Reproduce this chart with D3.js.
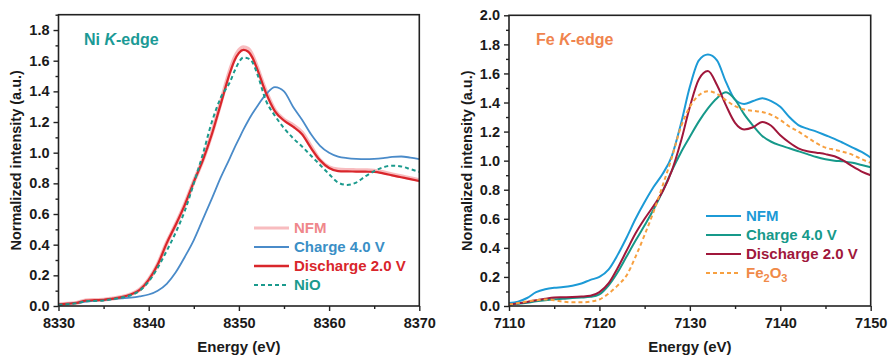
<!DOCTYPE html>
<html lang="en">
<head>
<meta charset="utf-8">
<title>Ni and Fe K-edge XANES</title>
<script src="https://d3js.org/d3.v7.min.js"></script>
<style>
  body { margin: 0; background: #fff; }
  text { font-family: "Liberation Sans", Arial, sans-serif; font-weight: bold; }
</style>
</head>
<body>
<div id="chart"></div>
<script>
// ---- Ni K-edge data ----
var niEnergy = [8330,8331,8332,8333,8334,8335,8336,8337,8338,8339,8340,8341,8342,8343,8344,8345,8346,8347,8348,8349,8349.5,8350,8350.5,8351,8351.5,8352,8353,8354,8355,8356,8357,8358,8359,8360,8361,8362,8363,8364,8365,8366,8367,8368,8369,8370];
var niNFM = [0.010,0.015,0.020,0.036,0.039,0.041,0.049,0.059,0.076,0.107,0.172,0.272,0.412,0.532,0.662,0.812,0.952,1.125,1.330,1.535,1.615,1.668,1.688,1.678,1.635,1.560,1.400,1.275,1.215,1.180,1.132,1.040,0.950,0.905,0.890,0.887,0.886,0.885,0.883,0.872,0.858,0.846,0.834,0.820];
var niCharge = [0.010,0.014,0.020,0.028,0.035,0.040,0.045,0.050,0.055,0.063,0.075,0.100,0.145,0.220,0.320,0.430,0.565,0.700,0.840,0.965,1.030,1.090,1.150,1.205,1.255,1.300,1.380,1.428,1.400,1.300,1.215,1.120,1.045,1.000,0.975,0.965,0.960,0.958,0.960,0.965,0.972,0.975,0.968,0.958];
var niDischarge = [0.010,0.015,0.020,0.035,0.038,0.040,0.048,0.058,0.075,0.105,0.170,0.270,0.410,0.530,0.660,0.810,0.950,1.120,1.320,1.520,1.600,1.650,1.670,1.660,1.620,1.550,1.390,1.270,1.210,1.170,1.120,1.030,0.950,0.900,0.880,0.878,0.877,0.876,0.875,0.865,0.852,0.840,0.828,0.815];
var niNiO = [0.008,0.012,0.018,0.030,0.033,0.036,0.045,0.055,0.070,0.100,0.160,0.250,0.360,0.480,0.620,0.800,0.990,1.200,1.360,1.460,1.530,1.590,1.620,1.615,1.590,1.520,1.340,1.240,1.160,1.095,1.040,0.980,0.920,0.860,0.805,0.790,0.805,0.845,0.880,0.905,0.915,0.910,0.893,0.875];
var niXTicks = [8330, 8340, 8350, 8360, 8370];
var niYTicks = [0, 0.2, 0.4, 0.6, 0.8, 1.0, 1.2, 1.4, 1.6, 1.8];

// ---- Fe K-edge data ----
var feEnergy = d3.range(7110, 7151, 1);
var feNFM = [0.020,0.030,0.055,0.095,0.115,0.125,0.130,0.140,0.155,0.180,0.200,0.250,0.350,0.470,0.600,0.715,0.820,0.910,1.030,1.250,1.508,1.690,1.730,1.690,1.540,1.420,1.390,1.410,1.430,1.410,1.370,1.300,1.245,1.220,1.200,1.175,1.150,1.120,1.090,1.060,1.020];
var feCharge = [0.010,0.015,0.022,0.032,0.040,0.046,0.050,0.055,0.058,0.063,0.080,0.140,0.230,0.340,0.450,0.555,0.665,0.790,0.930,1.055,1.164,1.270,1.360,1.430,1.470,1.420,1.320,1.240,1.170,1.130,1.105,1.085,1.065,1.045,1.025,1.010,1.000,0.995,0.985,0.970,0.955];
var feDischarge = [0.010,0.018,0.028,0.040,0.050,0.058,0.060,0.062,0.065,0.070,0.095,0.155,0.260,0.380,0.500,0.600,0.690,0.790,0.930,1.130,1.370,1.560,1.616,1.520,1.380,1.260,1.215,1.230,1.266,1.240,1.175,1.125,1.085,1.065,1.055,1.045,1.030,1.000,0.960,0.925,0.900];
var feFe2O3 = [0.010,0.020,0.032,0.040,0.045,0.040,0.030,0.025,0.025,0.030,0.045,0.085,0.140,0.210,0.340,0.490,0.650,0.830,1.020,1.230,1.370,1.450,1.478,1.460,1.415,1.375,1.352,1.343,1.335,1.315,1.280,1.235,1.200,1.160,1.120,1.090,1.075,1.060,1.040,1.010,0.985];
var feXTicks = [7110, 7120, 7130, 7140, 7150];
var feYTicks = [0, 0.2, 0.4, 0.6, 0.8, 1.0, 1.2, 1.4, 1.6, 1.8, 2.0];

var width = 889, height = 358;

var svg = d3.select("#chart").append("svg")
    .attr("width", width)
    .attr("height", height);

function drawPanel(p) {
    var x = d3.scaleLinear().domain(p.xDomain).range([p.left, p.right]);
    var y = d3.scaleLinear().domain(p.yDomain).range([p.bottom, p.top]);
    var g = svg.append("g");

    // clip so curves stay inside the frame
    g.append("clipPath").attr("id", p.id + "clip")
      .append("rect")
        .attr("x", p.left).attr("y", p.top)
        .attr("width", p.right - p.left).attr("height", p.bottom - p.top);

    // minor ticks
    var xMinor = d3.range(p.xDomain[0], p.xDomain[1] + 0.01, 5).filter(v => p.xTicks.indexOf(v) < 0);
    var yMinor = d3.range(1, Math.round(p.yDomain[1] * 10) + 1, 2).map(v => v / 10);

    g.append("g")
        .attr("transform", "translate(0," + p.bottom + ")")
        .call(d3.axisBottom(x).tickValues(xMinor).tickSize(3).tickFormat(""))
        .call(a => a.select(".domain").remove());
    g.append("g")
        .attr("transform", "translate(" + p.left + ",0)")
        .call(d3.axisLeft(y).tickValues(yMinor).tickSize(3).tickFormat(""))
        .call(a => a.select(".domain").remove());

    // major ticks
    var xAxis = g.append("g")
        .attr("transform", "translate(0," + p.bottom + ")")
        .call(d3.axisBottom(x).tickValues(p.xTicks).tickSize(5).tickPadding(7).tickFormat(d3.format("d")));
    var yAxis = g.append("g")
        .attr("transform", "translate(" + p.left + ",0)")
        .call(d3.axisLeft(y).tickValues(p.yTicks).tickSize(5).tickPadding(4).tickFormat(d3.format(".1f")));
    [xAxis, yAxis].forEach(function(a) {
        a.select(".domain").remove();
        a.selectAll("text").attr("font-size", 14.5).attr("fill", "#1a1a1a");
    });
    g.selectAll(".tick line").attr("stroke", "#222").attr("stroke-width", 1.4);

    // series
    var line = d3.line()
        .x(d => x(d[0]))
        .y(d => y(d[1]))
        .curve(d3.curveMonotoneX);
    var lines = g.append("g").attr("clip-path", "url(#" + p.id + "clip)");
    p.series.forEach(function(s) {
        var pts = p.energy.map((e, i) => [e, s.values[i]]);
        lines.append("path")
            .datum(pts)
            .attr("fill", "none")
            .attr("stroke", s.color)
            .attr("stroke-width", s.width)
            .attr("stroke-opacity", s.opacity || 1)
            .attr("stroke-dasharray", s.dash || null)
            .attr("stroke-linejoin", "round")
            .attr("d", line);
    });

    // frame
    g.append("rect")
        .attr("x", p.left).attr("y", p.top)
        .attr("width", p.right - p.left).attr("height", p.bottom - p.top)
        .attr("fill", "none").attr("stroke", "#222").attr("stroke-width", 1.6);

    // axis titles
    g.append("text")
        .attr("x", (p.left + p.right) / 2).attr("y", 352)
        .attr("text-anchor", "middle").attr("font-size", 15).attr("fill", "#1a1a1a")
        .text("Energy (eV)");
    g.append("text")
        .attr("transform", "translate(" + p.yTitleX + "," + ((p.top + p.bottom) / 2) + ") rotate(-90)")
        .attr("text-anchor", "middle").attr("dy", "0.35em")
        .attr("font-size", 14.5).attr("fill", "#1a1a1a")
        .text("Normalized intensity (a.u.)");

    // panel label
    var lab = g.append("text")
        .attr("x", p.labelX).attr("y", 44.5)
        .attr("font-size", 16).attr("fill", p.labelColor);
    lab.append("tspan").text(p.element + " ");
    lab.append("tspan").attr("font-style", "italic").text("K");
    lab.append("tspan").text("-edge");

    // legend
    var leg = g.append("g");
    p.series.forEach(function(s, i) {
        var cy = p.legendY + i * 19;
        leg.append("line")
            .attr("x1", p.legendX).attr("x2", p.legendX + 35)
            .attr("y1", cy).attr("y2", cy)
            .attr("stroke", s.color).attr("stroke-width", s.legendWidth || s.width)
            .attr("stroke-opacity", s.opacity || 1)
            .attr("stroke-dasharray", s.dash || null);
        var t = leg.append("text")
            .attr("x", p.legendX + 40).attr("y", cy + 5.3)
            .attr("font-size", 15).attr("fill", s.textColor || s.color);
        if (s.sub) {
            s.sub.forEach(function(part) {
                t.append("tspan")
                    .attr("font-size", part.sub ? 11 : 15)
                    .attr("dy", part.sub ? 4 : (part.after ? -4 : 0))
                    .text(part.t);
            });
        } else {
            t.text(s.name);
        }
    });
}

drawPanel({
    id: "ni",
    left: 58.5, right: 419.3, top: 14.7, bottom: 306,
    xDomain: [8330, 8370], yDomain: [0, 1.9],
    xTicks: niXTicks, yTicks: niYTicks,
    energy: niEnergy,
    yTitleX: 16,
    element: "Ni", labelX: 84, labelColor: "#1b9a96",
    legendX: 254, legendY: 228,
    series: [
        { name: "NFM", values: niNFM, color: "#f5a0a4", textColor: "#ef878b", width: 4, legendWidth: 3, opacity: 0.7 },
        { name: "Charge 4.0 V", values: niCharge, color: "#4a8bc9", textColor: "#3a8fc6", width: 1.8, legendWidth: 2 },
        { name: "Discharge 2.0 V", values: niDischarge, color: "#d9262b", width: 2.2, legendWidth: 2.6 },
        { name: "NiO", values: niNiO, color: "#1b9a8d", width: 2, dash: "4,3" }
    ]
});

drawPanel({
    id: "fe",
    left: 509, right: 870.7, top: 15.3, bottom: 306,
    xDomain: [7110, 7150], yDomain: [0, 2.0],
    xTicks: feXTicks, yTicks: feYTicks,
    energy: feEnergy,
    yTitleX: 467,
    element: "Fe", labelX: 536, labelColor: "#f0844e",
    legendX: 706, legendY: 216,
    series: [
        { name: "NFM", values: feNFM, color: "#1c9ad6", width: 2 },
        { name: "Charge 4.0 V", values: feCharge, color: "#16998a", width: 2 },
        { name: "Discharge 2.0 V", values: feDischarge, color: "#a0173b", width: 2 },
        { name: "Fe2O3", values: feFe2O3, color: "#f7a040", textColor: "#f08a48", width: 2, dash: "4,3",
          sub: [{ t: "Fe" }, { t: "2", sub: true }, { t: "O", after: true }, { t: "3", sub: true }] }
    ]
});
</script>
</body>
</html>
